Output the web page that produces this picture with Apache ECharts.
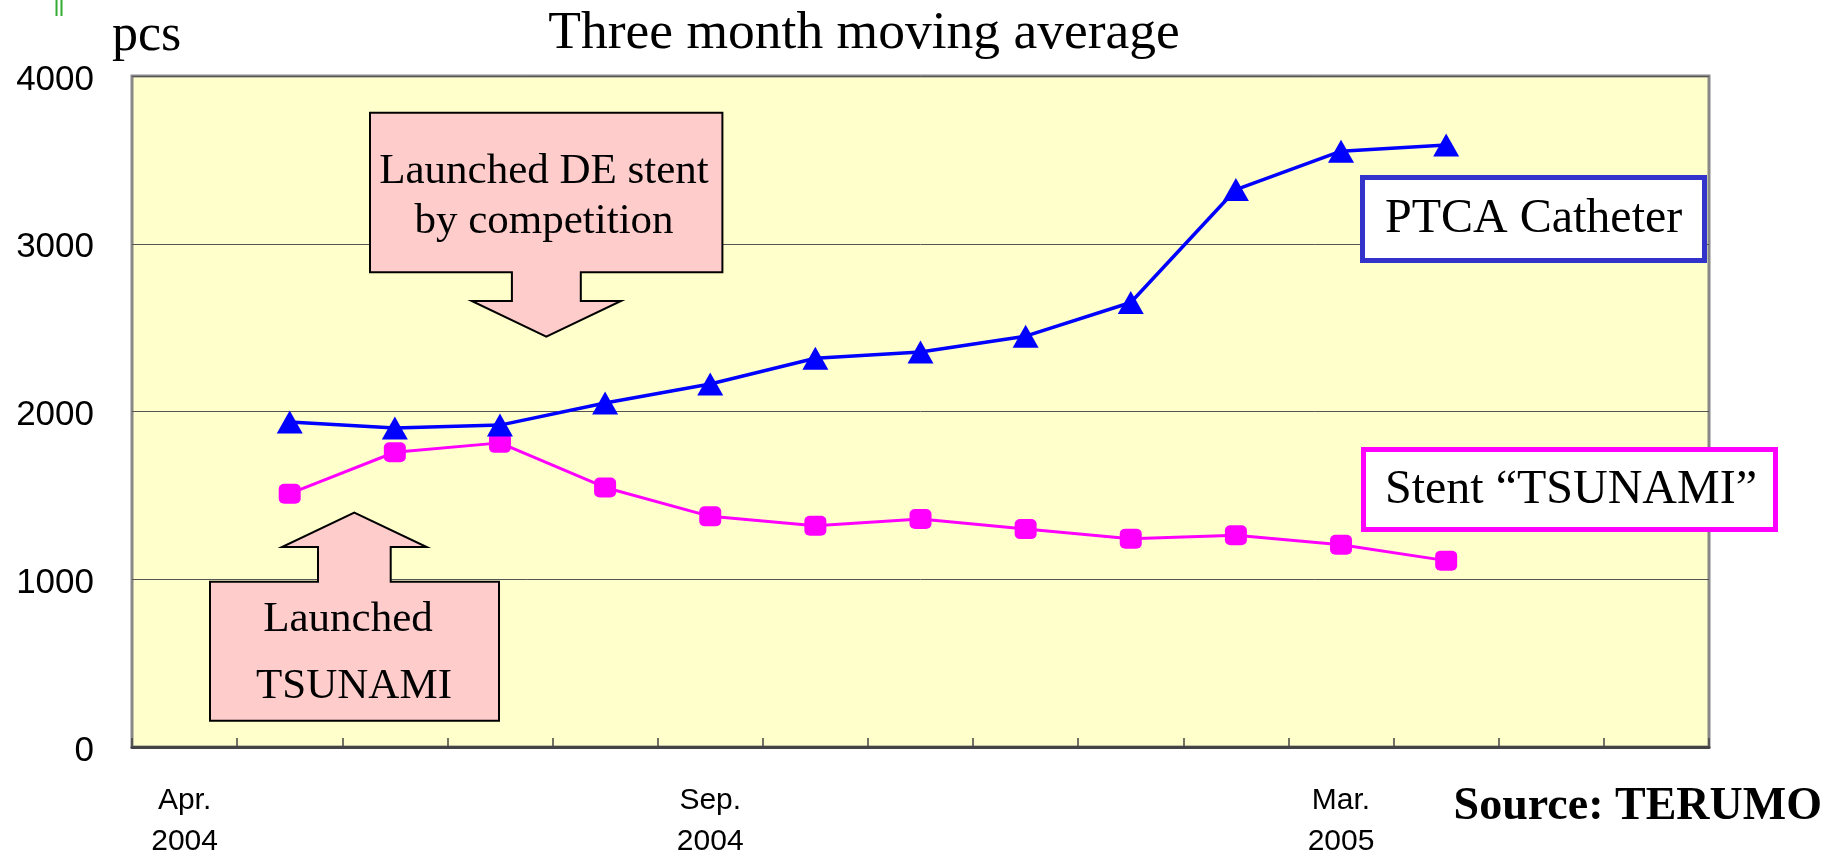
<!DOCTYPE html>
<html>
<head>
<meta charset="utf-8">
<script src="https://cdn.jsdelivr.net/npm/echarts@6/dist/echarts.min.js"></script>
<style>
html,body{margin:0;padding:0;background:#fff;}
#chart{width:1824px;height:855px;}
</style>
</head>
<body>
<div id="chart"></div>
<script>
// ---- data ----
var months = ['Apr.\n2004','May\n2004','Jun.\n2004','Jul.\n2004','Aug.\n2004','Sep.\n2004','Oct.\n2004','Nov.\n2004','Dec.\n2004','Jan.\n2005','Feb.\n2005','Mar.\n2005','Apr.\n2005','May\n2005','Jun.\n2005'];
var shownLabelIdx = [0, 5, 11];
var firstDataIdx = 1;
var ptcaCatheter = [1937, 1901, 1919, 2051, 2164, 2317, 2355, 2449, 2650, 3323, 3552, 3589];
var stentTsunami = [1510, 1757, 1813, 1547, 1375, 1319, 1359, 1299, 1242, 1262, 1206, 1111];
var yTicks = [0, 1000, 2000, 3000, 4000];

function pad(arr){
  var out = [];
  for (var i = 0; i < months.length; i++) {
    var j = i - firstDataIdx;
    out.push(j >= 0 && j < arr.length ? arr[j] : null);
  }
  return out;
}

var serif = '"Liberation Serif","Times New Roman",serif';
var sans = '"Liberation Sans",Arial,sans-serif';

var chart = echarts.init(document.getElementById('chart'), null, {renderer:'canvas'});
chart.setOption({
  backgroundColor: '#ffffff',
  animation: false,
  grid: {
    left: 132, right: 115, top: 76, bottom: 108,
    outerBoundsMode: 'none', containLabel: false,
    show: true, backgroundColor: '#FFFFCC', borderColor: '#888888', borderWidth: 3
  },
  xAxis: {
    type: 'category',
    data: months,
    boundaryGap: true,
    axisLine: {show: true, lineStyle: {color: '#444444', width: 3}},
    axisTick: {show: true, inside: true, length: 9, lineStyle: {color: '#444444', width: 1.5}, interval: 0},
    axisLabel: {
      interval: function(idx){ return shownLabelIdx.indexOf(idx) >= 0; },
      color: '#000', fontFamily: sans, fontSize: 30, lineHeight: 41, margin: 33
    },
    splitLine: {show: false}
  },
  yAxis: {
    type: 'value',
    min: yTicks[0], max: yTicks[yTicks.length-1], interval: 1000,
    axisLine: {show: false},
    axisTick: {show: false},
    axisLabel: {
      margin: 38,
      formatter: function(v){ return '{a|' + v + '}'; },
      rich: {a: {color: '#000', fontFamily: sans, fontSize: 35, lineHeight: 35, padding: [8, 0, 0, 0]}}
    },
    splitLine: {show: true, lineStyle: {color: '#555555', width: 1}}
  },
  series: [
    {
      name: 'PTCA Catheter', type: 'line', data: pad(ptcaCatheter),
      symbol: 'triangle', symbolSize: [26, 23], showAllSymbol: true,
      lineStyle: {color: '#0000FF', width: 3.5},
      itemStyle: {color: '#0000FF'}, z: 4
    },
    {
      name: 'Stent TSUNAMI', type: 'line', data: pad(stentTsunami),
      symbol: 'roundRect', symbolSize: [22, 20], showAllSymbol: true,
      lineStyle: {color: '#FF00FF', width: 3},
      itemStyle: {color: '#FF00FF'}, z: 3
    }
  ],
  graphic: [
    // stray green mark at top-left
    {type:'line', shape:{x1:56.5,y1:0,x2:56.5,y2:16}, style:{stroke:'#33AA33', lineWidth:2}, z:10},
    {type:'line', shape:{x1:61.5,y1:0,x2:61.5,y2:16}, style:{stroke:'#33AA33', lineWidth:2}, z:10},
    // title and unit
    {type:'text', x:864, y:34, style:{text:'Three month moving average', font:'53.5px '+serif, fill:'#000', align:'center', verticalAlign:'middle'}, z:10},
    {type:'text', x:112, y:36, style:{text:'pcs', font:'52px '+serif, fill:'#000', align:'left', verticalAlign:'middle'}, z:10},
    // source
    {type:'text', x:1822, y:807, style:{text:'Source: TERUMO', font:'bold 46px '+serif, fill:'#000', align:'right', verticalAlign:'middle'}, z:10},
    // DE stent callout (down arrow)
    {type:'polygon', shape:{points:[[370,112.7],[722.4,112.7],[722.4,272.3],[580.8,272.3],[580.8,301],[621,301],[546.3,336.7],[471.7,301],[511.9,301],[511.9,272.3],[370,272.3]]},
      style:{fill:'#FFCCCC', stroke:'#000', lineWidth:2}, z:20},
    {type:'text', x:544, y:197, style:{text:'Launched DE stent\nby competition', font:'43px '+serif, lineHeight:50, fill:'#000', align:'center', verticalAlign:'middle'}, z:21},
    // TSUNAMI launch callout (up arrow)
    {type:'polygon', shape:{points:[[210,720.7],[499,720.7],[499,581.7],[390.7,581.7],[390.7,547],[426.7,547],[354.3,512.7],[282,547],[318,547],[318,581.7],[210,581.7]]},
      style:{fill:'#FFCCCC', stroke:'#000', lineWidth:2}, z:20},
    {type:'text', x:348, y:620, style:{text:'Launched', font:'43px '+serif, fill:'#000', align:'center', verticalAlign:'middle'}, z:21},
    {type:'text', x:354, y:687, style:{text:'TSUNAMI', font:'43px '+serif, fill:'#000', align:'center', verticalAlign:'middle'}, z:21},
    // legend-like labels
    {type:'rect', shape:{x:1362.5, y:177.5, width:342, height:83}, style:{fill:'#FFFFFF', stroke:'#3333CC', lineWidth:5}, z:20},
    {type:'text', x:1385, y:219, style:{text:'PTCA Catheter', font:'48px '+serif, fill:'#000', align:'left', verticalAlign:'middle'}, z:21},
    {type:'rect', shape:{x:1363.5, y:449.5, width:412, height:80}, style:{fill:'#FFFFFF', stroke:'#FF00FF', lineWidth:5}, z:20},
    {type:'text', x:1385, y:490, style:{text:'Stent \u201CTSUNAMI\u201D', font:'48px '+serif, fill:'#000', align:'left', verticalAlign:'middle'}, z:21}
  ]
});
</script>
</body>
</html>
